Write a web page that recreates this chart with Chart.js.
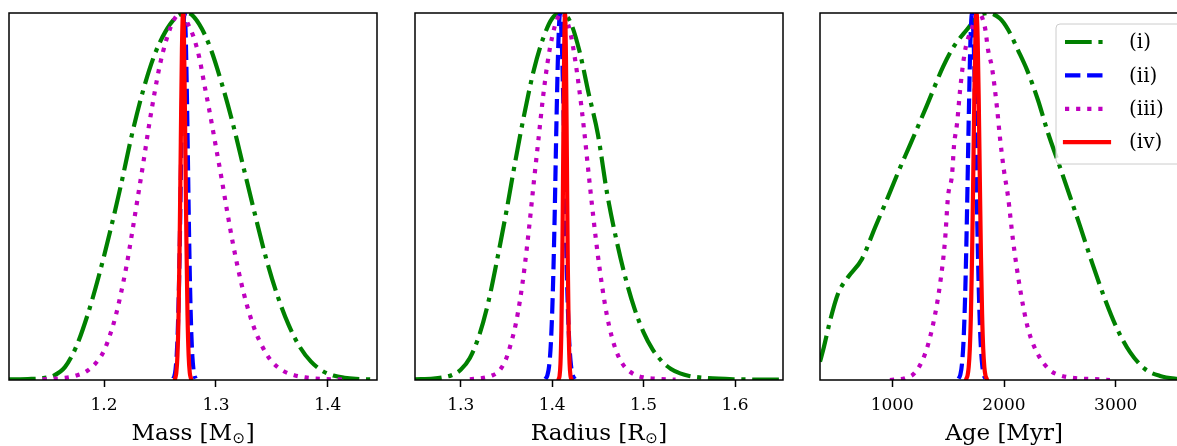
<!DOCTYPE html>
<html>
<head>
<meta charset="utf-8">
<script src="https://cdn.jsdelivr.net/npm/chart.js@4.4.0/dist/chart.umd.min.js"></script>
<style>
  html, body { margin: 0; padding: 0; background: #fff; overflow: hidden; width: 1177px; height: 446px; }
  .panel { position: absolute; top: 0; width: 386px; height: 446px; }
</style>
</head>
<body>
<div class="panel" style="left:0px"><canvas id="massChart" width="386" height="446"></canvas></div>
<div class="panel" style="left:406px"><canvas id="radiusChart" width="386" height="446"></canvas></div>
<div class="panel" style="left:811px"><canvas id="ageChart" width="386" height="446"></canvas></div>
<script>
// ======================= DỮ LIỆU =======================
const seriesLabels = ["(i)", "(ii)", "(iii)", "(iv)"];

// ==== Mass [M_sun] : [x, mật độ chuẩn hoá] ====
const massI = [[1.115,0.002],[1.125,0.002],[1.135,0.003],[1.145,0.005],[1.155,0.012],[1.165,0.035],[1.175,0.09],[1.185,0.175],[1.195,0.28],[1.205,0.40],[1.215,0.53],[1.225,0.67],[1.235,0.79],[1.245,0.885],[1.255,0.95],[1.265,0.99],[1.275,1.0],[1.285,0.97],[1.295,0.905],[1.305,0.81],[1.315,0.70],[1.325,0.575],[1.335,0.45],[1.345,0.33],[1.355,0.23],[1.365,0.15],[1.375,0.09],[1.385,0.05],[1.395,0.025],[1.405,0.012],[1.415,0.006],[1.425,0.003],[1.444,0.001]];
const massII = [[1.2619,0.004],[1.2629,0.011],[1.2639,0.029],[1.2649,0.066],[1.2659,0.135],[1.2669,0.25],[1.2679,0.41],[1.2689,0.61],[1.2699,0.80],[1.2709,0.946],[1.2719,1.0],[1.2729,0.946],[1.2739,0.80],[1.2749,0.61],[1.2759,0.41],[1.2769,0.25],[1.2779,0.135],[1.2789,0.066],[1.2799,0.029],[1.2809,0.011],[1.2819,0.004]];
const massIII = [[1.145,0.002],[1.165,0.006],[1.175,0.012],[1.185,0.025],[1.195,0.055],[1.200,0.08],[1.205,0.12],[1.210,0.17],[1.215,0.235],[1.220,0.31],[1.225,0.40],[1.230,0.495],[1.235,0.59],[1.240,0.69],[1.245,0.78],[1.250,0.86],[1.255,0.92],[1.260,0.965],[1.265,0.993],[1.270,0.998],[1.275,0.97],[1.280,0.935],[1.285,0.88],[1.290,0.80],[1.295,0.72],[1.300,0.635],[1.305,0.55],[1.310,0.46],[1.315,0.375],[1.320,0.30],[1.325,0.235],[1.330,0.18],[1.335,0.135],[1.340,0.10],[1.345,0.072],[1.350,0.05],[1.360,0.025],[1.370,0.013],[1.380,0.007],[1.395,0.003],[1.415,0.001]];
const massIV = [[1.2636,0.005],[1.2646,0.02],[1.2656,0.067],[1.2666,0.177],[1.2676,0.38],[1.2686,0.65],[1.2696,0.90],[1.2706,1.0],[1.2716,0.90],[1.2726,0.65],[1.2736,0.38],[1.2746,0.177],[1.2756,0.067],[1.2766,0.02],[1.2776,0.005]];

// ==== Radius [R_sun] ====
const radiusI = [[1.25,0.002],[1.27,0.004],[1.28,0.007],[1.29,0.013],[1.30,0.028],[1.31,0.06],[1.32,0.12],[1.33,0.21],[1.34,0.33],[1.35,0.46],[1.36,0.60],[1.37,0.73],[1.38,0.845],[1.39,0.93],[1.40,0.985],[1.41,1.0],[1.42,0.975],[1.43,0.895],[1.44,0.78],[1.45,0.67],[1.46,0.51],[1.47,0.385],[1.48,0.28],[1.49,0.195],[1.50,0.13],[1.51,0.083],[1.52,0.051],[1.53,0.03],[1.54,0.018],[1.55,0.011],[1.57,0.005],[1.60,0.002],[1.6526,0.001]];
const radiusII = [[1.3927,0.003],[1.3947,0.012],[1.3967,0.038],[1.3987,0.104],[1.4007,0.235],[1.4027,0.44],[1.4047,0.70],[1.4067,0.91],[1.4087,1.0],[1.4107,0.91],[1.4127,0.70],[1.4147,0.44],[1.4167,0.235],[1.4187,0.104],[1.4207,0.038],[1.4227,0.012],[1.4247,0.003]];
const radiusIII = [[1.31,0.002],[1.325,0.006],[1.335,0.013],[1.340,0.02],[1.345,0.035],[1.350,0.06],[1.355,0.10],[1.360,0.15],[1.365,0.22],[1.370,0.31],[1.375,0.42],[1.380,0.54],[1.385,0.655],[1.390,0.77],[1.395,0.865],[1.400,0.935],[1.405,0.98],[1.410,1.0],[1.415,0.985],[1.420,0.945],[1.425,0.875],[1.430,0.785],[1.435,0.68],[1.440,0.56],[1.445,0.445],[1.450,0.34],[1.455,0.25],[1.460,0.175],[1.465,0.12],[1.470,0.08],[1.475,0.052],[1.480,0.034],[1.490,0.015],[1.500,0.007],[1.515,0.003],[1.535,0.001]];
const radiusIV = [[1.4071,0.002],[1.4081,0.011],[1.4091,0.044],[1.4101,0.135],[1.4111,0.32],[1.4121,0.61],[1.4131,0.88],[1.4141,1.0],[1.4151,0.88],[1.4161,0.61],[1.4171,0.32],[1.4181,0.135],[1.4191,0.044],[1.4201,0.011],[1.4211,0.002]];

// ==== Age [Myr] ====
const ageI = [[353,0.05],[388,0.09],[442,0.16],[514,0.235],[603,0.28],[729,0.33],[845,0.415],[962,0.499],[1069,0.578],[1158,0.64],[1311,0.749],[1454,0.853],[1543,0.905],[1669,0.955],[1767,0.99],[1857,1.0],[1964,0.985],[2036,0.955],[2125,0.899],[2206,0.845],[2304,0.763],[2394,0.673],[2501,0.58],[2591,0.50],[2680,0.42],[2788,0.32],[2904,0.22],[3012,0.14],[3128,0.076],[3262,0.03],[3397,0.011],[3549,0.003],[3647,0.001]];
const ageII = [[1594,0.004],[1609,0.014],[1624,0.044],[1639,0.114],[1654,0.25],[1669,0.458],[1684,0.707],[1699,0.917],[1714,1.0],[1729,0.917],[1744,0.707],[1759,0.458],[1774,0.25],[1789,0.114],[1804,0.044],[1819,0.014],[1834,0.004]];
const ageIII = [[979,0.0],[1114,0.005],[1203,0.02],[1292,0.07],[1364,0.15],[1427,0.26],[1472,0.38],[1499,0.50],[1535,0.56],[1553,0.64],[1580,0.70],[1607,0.79],[1633,0.86],[1660,0.91],[1714,0.96],[1767,1.0],[1830,0.96],[1857,0.90],[1893,0.85],[1938,0.74],[1964,0.66],[2000,0.57],[2036,0.50],[2081,0.38],[2143,0.25],[2215,0.14],[2304,0.07],[2411,0.027],[2501,0.013],[2636,0.005],[2859,0.002],[2948,0.0]];
const ageIV = [[1664,0.004],[1674,0.0125],[1684,0.035],[1694,0.085],[1704,0.18],[1714,0.334],[1724,0.54],[1734,0.76],[1744,0.934],[1754,1.0],[1764,0.934],[1774,0.76],[1784,0.54],[1794,0.334],[1804,0.18],[1814,0.085],[1824,0.035],[1834,0.0125],[1844,0.004]];

// ==== Trục ====
const massTicks = [1.2, 1.3, 1.4];
const radiusTicks = [1.3, 1.4, 1.5, 1.6];
const ageTicks = [1000, 2000, 3000];
const massRange = [1.115, 1.444];
const radiusRange = [1.25, 1.6525];
const ageRange = [353, 3647];
const massTitle = ["Mass [M", "⊙", "]"];
const radiusTitle = ["Radius [R", "⊙", "]"];
const ageTitle = ["Age [Myr]", "", ""];

// ======================= KIỂU ĐƯỜNG =======================
const seriesColors = ["#008000", "#0000ff", "#bf00bf", "#ff0000"];
const seriesDash = [[26.7, 6.7, 4.2, 6.7], [15.4, 6.7], [4.2, 6.9], []];
const LINE_W = 4.2;
const SERIF = "'DejaVu Serif', serif";

// ==== khung + nhãn trục (vẽ đè lên dữ liệu như matplotlib) ====
const framePlugin = {
    id: "frame",
    afterDatasetsDraw(chart, args, opts) {
        const { ctx, chartArea: a } = chart;
        ctx.save();
        ctx.strokeStyle = "#000";
        ctx.lineWidth = 1.5;
        ctx.strokeRect(a.left, a.top, a.right - a.left, a.bottom - a.top);

        // nhãn trục x có chỉ số dưới
        const [main, sub, end] = opts.parts;
        ctx.fillStyle = "#000";
        ctx.textBaseline = "alphabetic";
        ctx.font = "23px " + SERIF;
        const w1 = ctx.measureText(main).width;
        const w3 = ctx.measureText(end).width;
        ctx.font = "15px 'DejaVu Sans'";
        const w2 = sub ? ctx.measureText(sub).width + 1 : 0;
        let x = (a.left + a.right) / 2 - (w1 + w2 + w3) / 2;
        ctx.font = "23px " + SERIF;
        ctx.textAlign = "left";
        ctx.fillText(main, x, 440);
        x += w1;
        if (sub) {
            ctx.font = "15px 'DejaVu Sans'";
            ctx.fillText(sub, x + 0.5, 443);
            x += w2;
        }
        ctx.font = "23px " + SERIF;
        ctx.fillText(end, x, 440);
        ctx.restore();
    }
};

// ==== chú giải (chỉ ở ô Age) ====
const legendPlugin = {
    id: "boxLegend",
    afterDatasetsDraw(chart) {
        const { ctx, chartArea: a } = chart;
        const right = a.right - 7, top = a.top + 11;
        const left = right - 125, h = 140, r = 4;
        ctx.save();
        ctx.beginPath();
        ctx.roundRect(left, top, right - left, h, r);
        ctx.fillStyle = "rgba(255,255,255,0.8)";
        ctx.fill();
        ctx.strokeStyle = "#cccccc";
        ctx.lineWidth = 1;
        ctx.stroke();

        ctx.font = "20px " + SERIF;
        ctx.textBaseline = "middle";
        ctx.textAlign = "left";
        chart.data.datasets.forEach((ds, i) => {
            const y = top + 18 + i * 33.4;
            ctx.beginPath();
            ctx.setLineDash(ds.borderDash);
            ctx.lineCap = ds.borderDash.length ? "butt" : "square";
            ctx.strokeStyle = ds.borderColor;
            ctx.lineWidth = LINE_W;
            ctx.moveTo(left + 9, y);
            ctx.lineTo(left + 53, y);
            ctx.stroke();
            ctx.setLineDash([]);
            ctx.fillStyle = "#000";
            ctx.fillText(ds.label, left + 73, y + 1);
        });
        ctx.restore();
    }
};

function makeDatasets(curves) {
    return curves.map((pts, i) => ({
        label: seriesLabels[i],
        data: pts.map(p => ({ x: p[0], y: p[1] })),
        borderColor: seriesColors[i],
        borderDash: seriesDash[i],
        borderCapStyle: seriesDash[i].length ? "butt" : "square",
        borderWidth: LINE_W,
        pointRadius: 0,
        fill: false,
        cubicInterpolationMode: "monotone",
        clip: 0,
        order: 4 - i
    }));
}

// ======================= VẼ MỘT Ô =======================
function drawPanel(id, curves, range, ticks, title, withLegend) {
    new Chart(document.getElementById(id), {
        type: "line",
        data: { datasets: makeDatasets(curves) },
        options: {
            responsive: false,
            animation: false,
            events: [],
            layout: { padding: { left: 9, right: 9, top: 13, bottom: 0 } },
            plugins: {
                legend: { display: false },
                tooltip: { enabled: false },
                frame: { parts: title }
            },
            scales: {
                x: {
                    type: "linear",
                    min: range[0],
                    max: range[1],
                    afterBuildTicks: s => { s.ticks = ticks.map(v => ({ value: v })); },
                    afterFit: s => { s.height = 66; },
                    border: { display: false },
                    grid: { drawOnChartArea: false, drawTicks: true, tickLength: 7, tickWidth: 1.5, tickColor: "#000" },
                    ticks: {
                        color: "#000",
                        padding: 8,
                        maxRotation: 0,
                        autoSkip: false,
                        font: { family: SERIF, size: 17 },
                        callback: v => String(v)
                    }
                },
                y: { display: false, min: 0, max: 1 }
            }
        },
        plugins: withLegend ? [framePlugin, legendPlugin] : [framePlugin]
    });
}

drawPanel("massChart", [massI, massII, massIII, massIV], massRange, massTicks, massTitle, false);
drawPanel("radiusChart", [radiusI, radiusII, radiusIII, radiusIV], radiusRange, radiusTicks, radiusTitle, false);
drawPanel("ageChart", [ageI, ageII, ageIII, ageIV], ageRange, ageTicks, ageTitle, true);
</script>
</body>
</html>
